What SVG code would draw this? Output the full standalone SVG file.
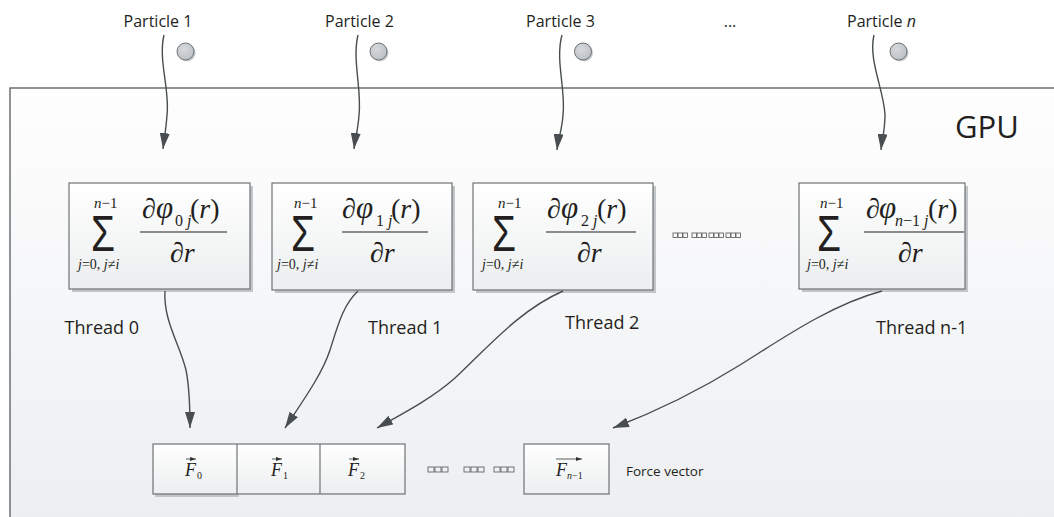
<svg xmlns="http://www.w3.org/2000/svg" width="1054" height="517" viewBox="0 0 1054 517">
  <defs>
    <linearGradient id="gpuFill" x1="0" y1="0" x2="0" y2="1">
      <stop offset="0" stop-color="#fefefe"/>
      <stop offset="1" stop-color="#eceef1"/>
    </linearGradient>
    <linearGradient id="boxFill" x1="0" y1="0" x2="0" y2="1">
      <stop offset="0" stop-color="#ffffff"/>
      <stop offset="1" stop-color="#eceeef"/>
    </linearGradient>
    <radialGradient id="ball" cx="0.4" cy="0.35" r="0.7">
      <stop offset="0" stop-color="#d6d9dc"/>
      <stop offset="1" stop-color="#bcc0c4"/>
    </radialGradient>
    <marker id="arrow" viewBox="0 0 16 10" refX="16" refY="5" markerWidth="16" markerHeight="10" markerUnits="userSpaceOnUse" orient="auto">
      <path d="M0,0 L16,5 L0,10 z" fill="#474d50"/>
    </marker>
    <marker id="vec" viewBox="0 0 6 4" refX="6" refY="2" markerWidth="6" markerHeight="4" markerUnits="userSpaceOnUse" orient="auto">
      <path d="M0,0 L6,2 L0,4 z" fill="#333"/>
    </marker>
  </defs>
  <style>
    .lbl { font-family: "Open Sans", "Liberation Sans", sans-serif; fill: #231f20; }
    .part { font-size: 16px; text-anchor: middle; }
    .thr { font-size: 18px; }
    .math { font-family: "Liberation Serif", serif; font-weight: 400; fill: #231f20; font-style: italic; }
    .rom { font-style: normal; }
    .sig { font-family: "Liberation Sans", sans-serif; font-weight: 400; font-size: 50px; fill: #231f20; }
    .box { fill: url(#boxFill); stroke: #6f7274; stroke-width: 1.2; }
    .shadow { fill: #c3c6c9; }
    .frac { stroke: #231f20; stroke-width: 1.2; }
    .wire { fill: none; stroke: #474d50; stroke-width: 1.4; marker-end: url(#arrow); }
    .tofu rect { fill: none; stroke: #555; stroke-width: 0.8; }
    .vline { stroke: #333; stroke-width: 0.8; marker-end: url(#vec); }
    .big { font-size: 28px; }
    .phi { font-size: 31px; }
    .lim { font-size: 14px; }
    .up { font-size: 15px; }
    .sub { font-size: 16px; }
  </style>

  <rect width="1054" height="517" fill="#ffffff"/>

  <!-- GPU container -->
  <g id="gpu">
    <rect x="10" y="88" width="1060" height="450" fill="url(#gpuFill)" stroke="#555a5d" stroke-width="1.3"/>
    <text class="lbl" x="955" y="138" font-size="31">GPU</text>
  </g>

  <!-- particles -->
  <g id="particle-1">
    <text class="lbl part" x="158" y="27">Particle 1</text>
    <circle cx="187" cy="53" r="8.5" fill="#c9cccf"/>
    <circle cx="185.5" cy="51.5" r="8.5" fill="url(#ball)" stroke="#6a6f72" stroke-width="1"/>
  </g>
  <g id="particle-2">
    <text class="lbl part" x="359.5" y="27">Particle 2</text>
    <circle cx="380" cy="53" r="8.5" fill="#c9cccf"/>
    <circle cx="378.5" cy="51.5" r="8.5" fill="url(#ball)" stroke="#6a6f72" stroke-width="1"/>
  </g>
  <g id="particle-3">
    <text class="lbl part" x="560.5" y="27">Particle 3</text>
    <circle cx="584.5" cy="53" r="8.5" fill="#c9cccf"/>
    <circle cx="583" cy="51.5" r="8.5" fill="url(#ball)" stroke="#6a6f72" stroke-width="1"/>
  </g>
  <g id="particle-dots">
    <text class="lbl part" x="730" y="27">...</text>
  </g>
  <g id="particle-n">
    <text class="lbl part" x="881.5" y="27">Particle <tspan font-style="italic">n</tspan></text>
    <circle cx="900" cy="53" r="8.5" fill="#c9cccf"/>
    <circle cx="898.5" cy="51.5" r="8.5" fill="url(#ball)" stroke="#6a6f72" stroke-width="1"/>
  </g>

  <!-- thread 0 -->
  <g id="thread-0">
    <rect class="shadow" x="72" y="186" width="181" height="106"/>
    <rect class="box" x="69" y="183" width="181" height="106"/>
    <text class="math up" x="94" y="208">n<tspan class="rom">−1</tspan></text>
    <text class="sig" x="91" y="251" textLength="24" lengthAdjust="spacingAndGlyphs">Σ</text>
    <text class="math lim" x="78" y="269">j<tspan class="rom">=0, </tspan>j<tspan class="rom">≠</tspan>i</text>
    <text class="math big rom" x="142" y="218">∂</text>
    <text class="math phi" x="156" y="218">φ</text>
    <text class="math sub" x="175" y="226"><tspan class="rom">0</tspan> j</text>
    <text class="math big" x="190" y="218"><tspan class="rom">(</tspan>r<tspan class="rom">)</tspan></text>
    <line class="frac" x1="140" y1="232" x2="227" y2="232"/>
    <text class="math big" x="170" y="262"><tspan class="rom">∂</tspan>r</text>
    <text class="lbl thr" x="139" y="334" text-anchor="end">Thread 0</text>
  </g>

  <!-- thread 1 -->
  <g id="thread-1">
    <rect class="shadow" x="275" y="186" width="180" height="107"/>
    <rect class="box" x="272" y="183" width="180" height="107"/>
    <text class="math up" x="294" y="208">n<tspan class="rom">−1</tspan></text>
    <text class="sig" x="291" y="251" textLength="24" lengthAdjust="spacingAndGlyphs">Σ</text>
    <text class="math lim" x="277" y="269">j<tspan class="rom">=0, </tspan>j<tspan class="rom">≠</tspan>i</text>
    <text class="math big rom" x="342" y="218">∂</text>
    <text class="math phi" x="356" y="218">φ</text>
    <text class="math sub" x="376" y="226"><tspan class="rom">1</tspan> j</text>
    <text class="math big" x="391" y="218"><tspan class="rom">(</tspan>r<tspan class="rom">)</tspan></text>
    <line class="frac" x1="342" y1="232" x2="428" y2="232"/>
    <text class="math big" x="370" y="262"><tspan class="rom">∂</tspan>r</text>
    <text class="lbl thr" x="368" y="334">Thread 1</text>
  </g>

  <!-- thread 2 -->
  <g id="thread-2">
    <rect class="shadow" x="476" y="186" width="180" height="107"/>
    <rect class="box" x="473" y="183" width="180" height="107"/>
    <text class="math up" x="498" y="208">n<tspan class="rom">−1</tspan></text>
    <text class="sig" x="492" y="251" textLength="24" lengthAdjust="spacingAndGlyphs">Σ</text>
    <text class="math lim" x="482" y="269">j<tspan class="rom">=0, </tspan>j<tspan class="rom">≠</tspan>i</text>
    <text class="math big rom" x="547" y="218">∂</text>
    <text class="math phi" x="561" y="218">φ</text>
    <text class="math sub" x="581" y="226"><tspan class="rom">2</tspan> j</text>
    <text class="math big" x="597" y="218"><tspan class="rom">(</tspan>r<tspan class="rom">)</tspan></text>
    <line class="frac" x1="546" y1="232" x2="636" y2="232"/>
    <text class="math big" x="577" y="262"><tspan class="rom">∂</tspan>r</text>
    <text class="lbl thr" x="565" y="329">Thread 2</text>
  </g>

  <!-- elided threads -->
  <g id="thread-gap" class="tofu">
    <rect x="673" y="233" width="4.5" height="4.5"/><rect x="678" y="233" width="4.5" height="4.5"/><rect x="683" y="233" width="4.5" height="4.5"/>
    <rect x="692" y="233" width="4.5" height="4.5"/><rect x="697" y="233" width="4.5" height="4.5"/><rect x="702" y="233" width="4.5" height="4.5"/>
    <rect x="709" y="233" width="4.5" height="4.5"/><rect x="714" y="233" width="4.5" height="4.5"/><rect x="719" y="233" width="4.5" height="4.5"/>
    <rect x="726" y="233" width="4.5" height="4.5"/><rect x="731" y="233" width="4.5" height="4.5"/><rect x="736" y="233" width="4.5" height="4.5"/>
  </g>

  <!-- thread n-1 -->
  <g id="thread-n-1">
    <rect class="shadow" x="802" y="186" width="166" height="106"/>
    <rect class="box" x="799" y="183" width="166" height="106"/>
    <text class="math up" x="820" y="208">n<tspan class="rom">−1</tspan></text>
    <text class="sig" x="817" y="251" textLength="24" lengthAdjust="spacingAndGlyphs">Σ</text>
    <text class="math lim" x="807" y="269">j<tspan class="rom">=0, </tspan>j<tspan class="rom">≠</tspan>i</text>
    <text class="math big rom" x="866" y="218">∂</text>
    <text class="math phi" x="879" y="218">φ</text>
    <text class="math sub" x="895" y="226">n<tspan class="rom">−1</tspan> j</text>
    <text class="math big" x="928" y="218"><tspan class="rom">(</tspan>r<tspan class="rom">)</tspan></text>
    <line class="frac" x1="864" y1="232" x2="964" y2="232"/>
    <text class="math big" x="898" y="262"><tspan class="rom">∂</tspan>r</text>
    <text class="lbl thr" x="876" y="334">Thread n-1</text>
  </g>

  <!-- force vector -->
  <g id="force-vector">
    <rect class="shadow" x="155" y="447" width="84" height="50"/>
    <rect class="box" x="153" y="444" width="252" height="50"/>
    <line x1="237" y1="444" x2="237" y2="494" stroke="#6f7274" stroke-width="1.2"/>
    <line x1="320" y1="444" x2="320" y2="494" stroke="#6f7274" stroke-width="1.2"/>
    <line class="vline" x1="186" y1="459" x2="196" y2="459"/>
    <text class="math" x="185" y="476" font-size="18">F</text>
    <text class="math rom" x="197" y="479" font-size="10">0</text>
    <line class="vline" x1="272" y1="459" x2="282" y2="459"/>
    <text class="math" x="271" y="476" font-size="18">F</text>
    <text class="math rom" x="283" y="479" font-size="10">1</text>
    <line class="vline" x1="349" y1="459" x2="359" y2="459"/>
    <text class="math" x="348" y="476" font-size="18">F</text>
    <text class="math rom" x="360" y="479" font-size="10">2</text>
  </g>
  <g id="force-gap" class="tofu">
    <rect x="428" y="467" width="6" height="5"/><rect x="435" y="467" width="6" height="5"/><rect x="442" y="467" width="6" height="5"/>
    <rect x="464" y="467" width="6" height="5"/><rect x="471" y="467" width="6" height="5"/><rect x="478" y="467" width="6" height="5"/>
    <rect x="494" y="467" width="6" height="5"/><rect x="501" y="467" width="6" height="5"/><rect x="508" y="467" width="6" height="5"/>
  </g>
  <g id="force-n-1">
    <rect class="box" x="524" y="444" width="85" height="50"/>
    <line class="vline" x1="556" y1="459" x2="582" y2="459"/>
    <text class="math" x="556" y="476" font-size="18">F</text>
    <text class="math" x="567" y="479" font-size="10">n<tspan class="rom">−1</tspan></text>
    <text class="lbl" x="626" y="476" font-size="13.5">Force vector</text>
  </g>

  <!-- connectors -->
  <g id="connectors">
    <path class="wire" d="M164,35 C158,60 170,90 167,115 C166,130 164,140 163,149"/>
    <path class="wire" d="M358,35 C352,60 362,90 359,115 C358,130 355,140 354,149"/>
    <path class="wire" d="M562,35 C555,60 566,90 563,115 C562,130 558,140 557,150"/>
    <path class="wire" d="M874,35 C868,60 884,90 885,115 C885,130 882,140 881,150"/>
    <path class="wire" d="M165,291 C163,320 180,345 186,370 C189,385 190,410 190,428"/>
    <path class="wire" d="M358,291 C343,305 338,325 330,350 C322,375 300,405 285,428"/>
    <path class="wire" d="M563,291 C520,310 490,345 455,378 C430,400 400,415 377,428"/>
    <path class="wire" d="M882,291 C830,305 780,340 740,365 C700,390 660,410 613,428"/>
  </g>
</svg>
